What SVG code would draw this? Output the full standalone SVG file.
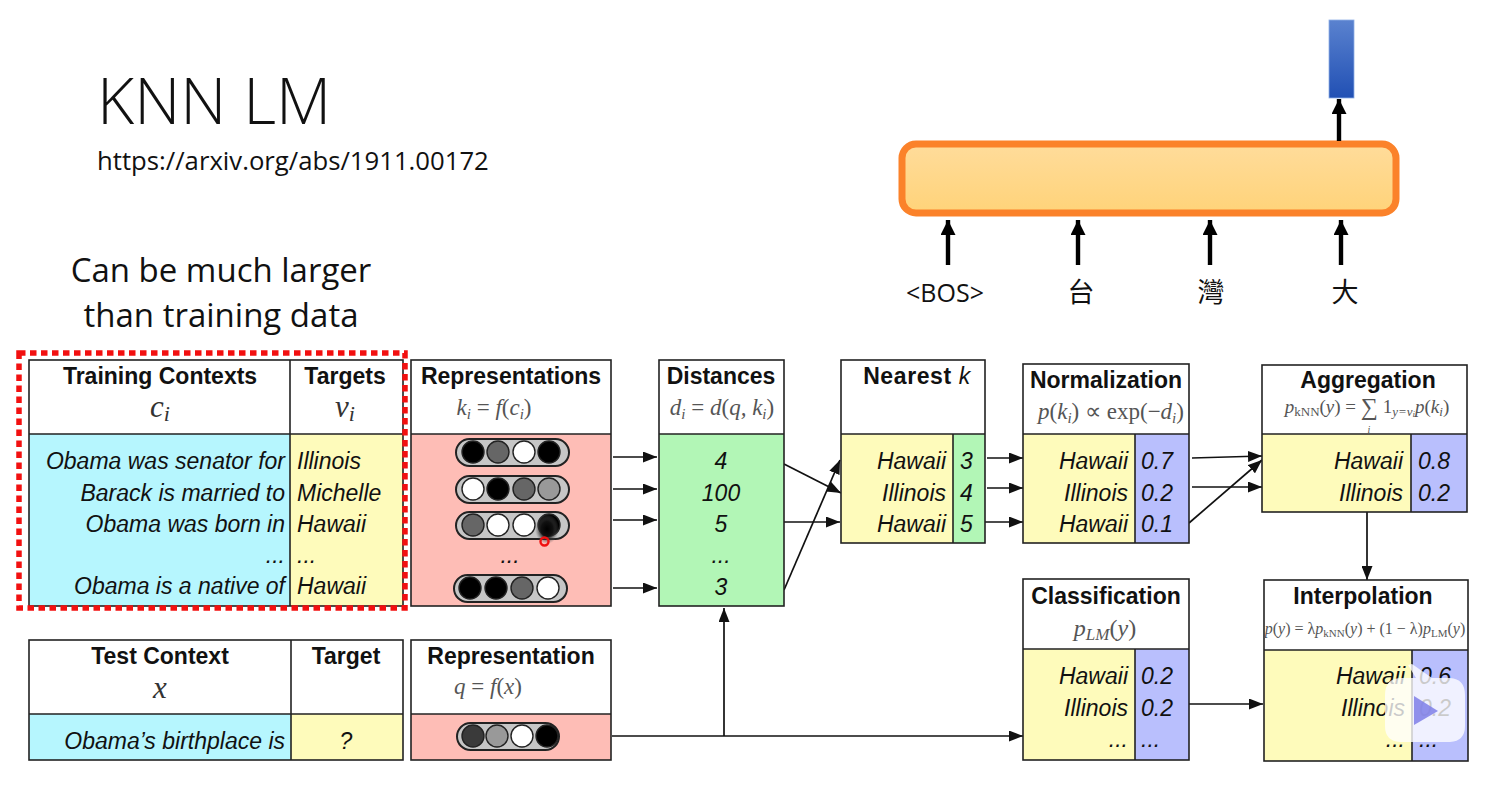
<svg xmlns="http://www.w3.org/2000/svg" width="1492" height="793" viewBox="0 0 1492 793">
<style>
.box{fill:none;stroke:#222;stroke-width:1.6}
.div{stroke:#222;stroke-width:1.6;fill:none}
.white{fill:#fff}.blue{fill:#b6f6fe}.yellow{fill:#fefbbb}.pink{fill:#febdb6}.green{fill:#b2f6b6}.purple{fill:#b9bffd}
.h{font:bold 23px "Liberation Sans",Arial,sans-serif;fill:#111;text-anchor:middle}
.t{font:italic 23px "Liberation Sans",Arial,sans-serif;fill:#111}
.r{text-anchor:end}.m{text-anchor:middle}
.math{font:italic 23px "Liberation Serif","Times New Roman",serif;fill:#555;text-anchor:middle}
.big{font:italic 31px "Liberation Serif","Times New Roman",serif;fill:#333;text-anchor:middle}
.up{font:normal 23px "Liberation Serif","Times New Roman",serif}
.s{font-size:15px}
.slide{font-family:"Open Sans","Noto Sans",sans-serif;fill:#111}
.cjk{font:27px "Noto Sans CJK TC","Noto Sans",sans-serif;fill:#111;text-anchor:middle}
.conn{stroke:#111;stroke-width:1.7;fill:none;marker-end:url(#a)}
.thick{stroke:#000;stroke-width:4.4;fill:none;marker-end:url(#b)}
.pill{fill:#c6c6c6;stroke:#222;stroke-width:2}
.c{stroke:#222;stroke-width:1.4}
.k{fill:#000}.d{fill:#666}.w{fill:#fff}.g{fill:#999}.n{fill:#3a3a3a}
.ag{font-size:19px}.ag2{font-size:13px}
.ip{font-size:16px}.ip2{font-size:11px}
</style>
<defs>
<marker id="a" markerUnits="userSpaceOnUse" markerWidth="15" markerHeight="11" refX="14" refY="5.5" orient="auto"><path d="M0 0L14 5.500L0 11Z" fill="#111"/></marker>
<marker id="b" markerUnits="userSpaceOnUse" markerWidth="16" markerHeight="16" refX="15" refY="7.5" orient="auto"><path d="M0 0L15 7.500L0 15Z" fill="#000"/></marker>
<linearGradient id="og" x1="0" y1="0" x2="0" y2="1"><stop offset="0" stop-color="#ffdc9b"/><stop offset="1" stop-color="#ffd379"/></linearGradient>
<linearGradient id="bg" x1="0" y1="0" x2="0" y2="1"><stop offset="0" stop-color="#5a82cf"/><stop offset="1" stop-color="#2150b4"/></linearGradient>
<radialGradient id="glow"><stop offset="0" stop-color="#000"/><stop offset=".5" stop-color="#111"/><stop offset="1" stop-color="#666" stop-opacity="0"/></radialGradient>
</defs>

<g id="heading">
<text x="97" y="124" class="slide" font-size="64" font-weight="300">KNN LM</text>
<text x="97" y="170" class="slide" font-size="25.700">https://arxiv.org/abs/1911.00172</text>
<text x="221" y="282" class="slide" font-size="33" text-anchor="middle">Can be much larger</text>
<text x="221" y="327" class="slide" font-size="33" text-anchor="middle">than training data</text>
</g>

<g id="lm-output"><rect x="1329" y="20" width="25" height="78" fill="url(#bg)" stroke="#8fb0e6" stroke-width=".8"/></g>
<g id="lm-box"><rect x="902" y="144" width="494" height="69" rx="14" fill="url(#og)" stroke="#fb822a" stroke-width="7"/></g>
<g id="lm-tokens">
<text x="945" y="302" class="slide" font-size="25" text-anchor="middle">&lt;BOS&gt;</text>
<text x="1081" y="302" class="cjk">台</text>
<text x="1211" y="302" class="cjk">灣</text>
<text x="1345" y="302" class="cjk">大</text>
</g>

<g id="connectors">
<path class="thick" d="M948 265V220"/><path class="thick" d="M1078 265V220"/><path class="thick" d="M1210 265V220"/><path class="thick" d="M1341 265V220"/><path class="thick" d="M1339 141V99"/>
<path class="conn" d="M613 457H657"/><path class="conn" d="M613 489H657"/><path class="conn" d="M613 520H657"/><path class="conn" d="M613 588H657"/>
<path class="conn" d="M784 464L841 493"/><path class="conn" d="M784 522H840"/><path class="conn" d="M784 590L840 460"/>
<path class="conn" d="M987 458H1023"/><path class="conn" d="M987 488H1023"/><path class="conn" d="M985 522H1023"/>
<path class="conn" d="M1192 458L1262 456"/><path class="conn" d="M1192 487H1262"/><path class="conn" d="M1189 523L1262 460"/>
<path class="conn" d="M1367 512V580"/><path class="conn" d="M1189 704H1263"/>
<path class="conn" d="M612 736H1023"/><path class="conn" d="M724 736V608"/>
</g>

<g id="training">
<rect class="white" x="29" y="360" width="374" height="74"/>
<rect class="blue" x="29" y="434" width="261" height="172"/><rect class="yellow" x="290" y="434" width="113" height="172"/>
<rect class="box" x="29" y="360" width="374" height="246"/><path class="div" d="M29 434H403M290 360V606"/>
<text class="h" x="160" y="384">Training Contexts</text><text class="h" x="345" y="384">Targets</text>
<text class="big" x="160" y="417">c<tspan font-size="22" dy="4">i</tspan></text><text class="big" x="345" y="417">v<tspan font-size="22" dy="4">i</tspan></text>
<text class="t r" x="285" y="469">Obama was senator for</text><text class="t r" x="285" y="501">Barack is married to</text><text class="t r" x="285" y="532">Obama was born in</text><text class="t r" x="285" y="563">...</text><text class="t r" x="285" y="594">Obama is a native of</text>
<text class="t" x="297" y="469">Illinois</text><text class="t" x="297" y="501">Michelle</text><text class="t" x="297" y="532">Hawaii</text><text class="t" x="297" y="563">...</text><text class="t" x="297" y="594">Hawaii</text>
</g>

<g id="representations">
<rect class="white" x="411" y="360" width="200" height="74"/><rect class="pink" x="411" y="434" width="200" height="172"/>
<rect class="box" x="411" y="360" width="200" height="246"/><path class="div" d="M411 434H611"/>
<text class="h" x="511" y="384">Representations</text>
<text class="math" x="494" y="415">k<tspan class="s" dy="4">i</tspan><tspan class="up" dy="-4"> = </tspan>f<tspan class="up">(</tspan>c<tspan class="s" dy="4">i</tspan><tspan class="up" dy="-4">)</tspan></text>
<rect class="pill" x="456" y="439" width="113" height="27" rx="13.5"/><circle class="c k" cx="473" cy="452" r="11"/><circle class="c d" cx="498" cy="452" r="11"/><circle class="c w" cx="524" cy="452" r="11"/><circle class="c k" cx="549" cy="452" r="11"/>
<rect class="pill" x="456" y="476" width="113" height="27" rx="13.5"/><circle class="c w" cx="473" cy="489" r="11"/><circle class="c k" cx="498" cy="489" r="11"/><circle class="c d" cx="524" cy="489" r="11"/><circle class="c g" cx="549" cy="489" r="11"/>
<rect class="pill" x="456" y="512" width="113" height="27" rx="13.5"/><circle class="c d" cx="473" cy="525" r="11"/><circle class="c w" cx="498" cy="525" r="11"/><circle class="c w" cx="524" cy="525" r="11"/><circle class="c k" cx="549" cy="525" r="11"/>
<text class="t m" x="510" y="563">...</text>
<rect class="pill" x="454" y="575" width="113" height="27" rx="13.5"/><circle class="c k" cx="470" cy="588" r="11"/><circle class="c k" cx="496" cy="588" r="11"/><circle class="c d" cx="522" cy="588" r="11"/><circle class="c w" cx="548" cy="588" r="11"/>
<ellipse cx="547" cy="529" rx="12" ry="15" fill="url(#glow)"/>
<circle cx="544.500" cy="541.500" r="4" fill="none" stroke="#f01010" stroke-width="2.400"/>
</g>

<g id="distances">
<rect class="white" x="659" y="360" width="125" height="74"/><rect class="green" x="659" y="434" width="125" height="172"/>
<rect class="box" x="659" y="360" width="125" height="246"/><path class="div" d="M659 434H784"/>
<text class="h" x="721" y="384">Distances</text>
<text class="math" x="722" y="415">d<tspan class="s" dy="4">i</tspan><tspan class="up" dy="-4"> = </tspan>d<tspan class="up">(</tspan>q, k<tspan class="s" dy="4">i</tspan><tspan class="up" dy="-4">)</tspan></text>
<text class="t m" x="721" y="469">4</text><text class="t m" x="721" y="501">100</text><text class="t m" x="721" y="532">5</text><text class="t m" x="721" y="563">...</text><text class="t m" x="721" y="595">3</text>
</g>

<g id="nearest">
<rect class="white" x="841" y="360" width="144" height="74"/><rect class="yellow" x="841" y="434" width="112" height="109"/><rect class="green" x="953" y="434" width="32" height="109"/>
<rect class="box" x="841" y="360" width="144" height="183"/><path class="div" d="M841 434H985M953 434V543"/>
<text class="h" x="917" y="384" letter-spacing=".6">Nearest <tspan font-style="italic" font-weight="normal">k</tspan></text>
<text class="t r" x="946" y="469">Hawaii</text><text class="t r" x="946" y="501">Illinois</text><text class="t r" x="946" y="532">Hawaii</text>
<text class="t" x="960" y="469">3</text><text class="t" x="960" y="501">4</text><text class="t" x="960" y="532">5</text>
</g>

<g id="normalization">
<rect class="white" x="1023" y="364" width="166" height="70"/><rect class="yellow" x="1023" y="434" width="112" height="109"/><rect class="purple" x="1135" y="434" width="54" height="109"/>
<rect class="box" x="1023" y="364" width="166" height="179"/><path class="div" d="M1023 434H1189M1135 434V543"/>
<text class="h" x="1106" y="388">Normalization</text>
<text class="math" x="1111" y="419">p<tspan class="up">(</tspan>k<tspan class="s" dy="4">i</tspan><tspan class="up" dy="-4">) ∝ exp(−</tspan>d<tspan class="s" dy="4">i</tspan><tspan class="up" dy="-4">)</tspan></text>
<text class="t r" x="1128" y="469">Hawaii</text><text class="t r" x="1128" y="501">Illinois</text><text class="t r" x="1128" y="532">Hawaii</text>
<text class="t" x="1141" y="469">0.7</text><text class="t" x="1141" y="501">0.2</text><text class="t" x="1141" y="532">0.1</text>
</g>

<g id="aggregation">
<rect class="white" x="1262" y="365" width="205" height="69"/><rect class="yellow" x="1262" y="434" width="149" height="78"/><rect class="purple" x="1411" y="434" width="56" height="78"/>
<rect class="box" x="1262" y="365" width="205" height="147"/><path class="div" d="M1262 434H1467M1411 434V512"/>
<text class="h" x="1368" y="388">Aggregation</text>
<text class="math ag" x="1367" y="413">p<tspan class="ag2" dy="3" font-style="normal">kNN</tspan><tspan class="up ag" dy="-3">(</tspan>y<tspan class="up ag">) = </tspan><tspan class="up" style="font-size:24px" dy="2">∑</tspan><tspan class="up ag" dy="-2"> 1</tspan><tspan class="ag2" dy="3">y=v</tspan><tspan font-size="9" dy="1">i</tspan><tspan dy="-4">p</tspan><tspan class="up ag">(</tspan>k<tspan class="ag2" dy="3">i</tspan><tspan class="up ag" dy="-3">)</tspan></text>
<text class="math" x="1369" y="433" style="font-size:10px">i</text>
<text class="t r" x="1403" y="469">Hawaii</text><text class="t r" x="1403" y="501">Illinois</text>
<text class="t" x="1418" y="469">0.8</text><text class="t" x="1418" y="501">0.2</text>
</g>

<g id="classification">
<rect class="white" x="1023" y="579" width="166" height="70"/><rect class="yellow" x="1023" y="649" width="112" height="111"/><rect class="purple" x="1135" y="649" width="54" height="111"/>
<rect class="box" x="1023" y="579" width="166" height="181"/><path class="div" d="M1023 649H1189M1135 649V760"/>
<text class="h" x="1106" y="604">Classification</text>
<text class="math" x="1105" y="636" style="font-size:24px">p<tspan style="font-size:17px" dy="4">LM</tspan><tspan class="up" style="font-size:24px" dy="-4">(</tspan>y<tspan class="up" style="font-size:24px">)</tspan></text>
<text class="t r" x="1128" y="684">Hawaii</text><text class="t r" x="1128" y="716">Illinois</text><text class="t r" x="1128" y="747">...</text>
<text class="t" x="1141" y="684">0.2</text><text class="t" x="1141" y="716">0.2</text><text class="t" x="1141" y="747">...</text>
</g>

<g id="interpolation">
<rect class="white" x="1264" y="580" width="204" height="70"/><rect class="yellow" x="1264" y="650" width="148" height="111"/><rect class="purple" x="1412" y="650" width="56" height="111"/>
<rect class="box" x="1264" y="580" width="204" height="181"/><path class="div" d="M1264 650H1468M1412 650V761"/>
<text class="h" x="1363" y="604">Interpolation</text>
<text class="math ip" x="1365" y="634">p<tspan class="up ip">(</tspan>y<tspan class="up ip">) = λ</tspan>p<tspan class="ip2" dy="3" font-style="normal">kNN</tspan><tspan class="up ip" dy="-3">(</tspan>y<tspan class="up ip">) + (1 − λ)</tspan>p<tspan class="ip2" dy="3" font-style="normal">LM</tspan><tspan class="up ip" dy="-3">(</tspan>y<tspan class="up ip">)</tspan></text>
<text class="t r" x="1405" y="684">Hawaii</text><text class="t r" x="1405" y="716">Illinois</text><text class="t r" x="1405" y="747">...</text>
<text class="t" x="1419" y="684">0.6</text><text class="t" x="1419" y="716">0.2</text><text class="t" x="1419" y="747">...</text>
</g>

<g id="test">
<rect class="white" x="29" y="640" width="374" height="74"/><rect class="blue" x="29" y="714" width="262" height="46"/><rect class="yellow" x="291" y="714" width="112" height="46"/>
<rect class="box" x="29" y="640" width="374" height="120"/><path class="div" d="M29 714H403M291 640V760"/>
<text class="h" x="160" y="664">Test Context</text><text class="h" x="346" y="664">Target</text>
<text class="big" x="160" y="698">x</text>
<text class="t r" x="285" y="749">Obama’s birthplace is</text><text class="t m" x="346" y="749">?</text>
</g>

<g id="representation">
<rect class="white" x="411" y="640" width="200" height="74"/><rect class="pink" x="411" y="714" width="200" height="46"/>
<rect class="box" x="411" y="640" width="200" height="120"/><path class="div" d="M411 714H611"/>
<text class="h" x="511" y="664">Representation</text>
<text class="math" x="488" y="694">q<tspan class="up"> = </tspan>f<tspan class="up">(</tspan>x<tspan class="up">)</tspan></text>
<rect class="pill" x="457" y="723" width="102" height="27" rx="13.5"/><circle class="c n" cx="473" cy="736" r="11"/><circle class="c g" cx="497" cy="736" r="11"/><circle class="c w" cx="522" cy="736" r="11"/><circle class="c k" cx="547" cy="736" r="11"/>
</g>

<g id="selection"><path d="M19 353H405V608H19Z" fill="none" stroke="#f21010" stroke-width="5.500" stroke-dasharray="6.500 4.500"/></g>

<g id="badge">
<path d="M1385 695Q1385 679 1400 678H1416L1408 665L1412 664L1432 678H1450Q1465 679 1465 695V726Q1465 741 1450 742H1400Q1385 741 1385 726Z" fill="#fff" fill-opacity=".78"/>
<path d="M1414 696L1438 711L1414 725Z" fill="#7f7fe8" fill-opacity=".85"/>
</g>
</svg>
